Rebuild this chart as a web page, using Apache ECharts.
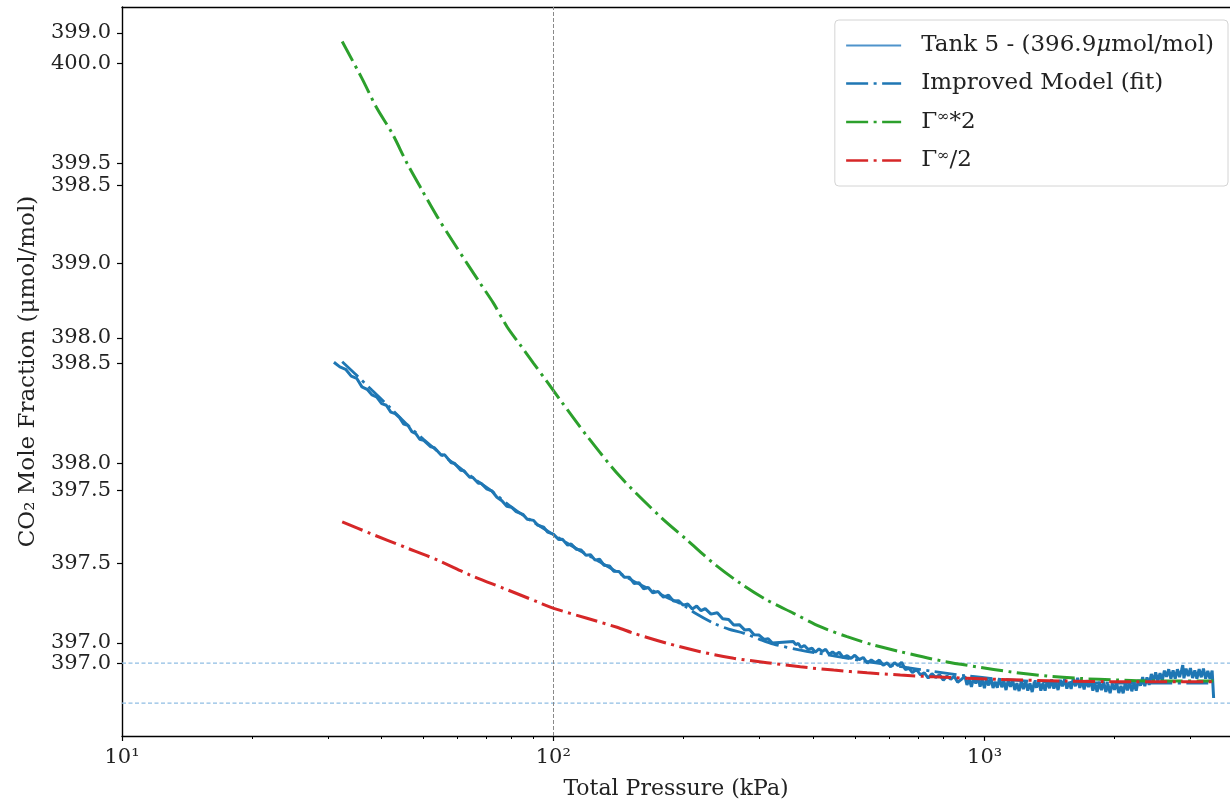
<!DOCTYPE html>
<html>
<head>
<meta charset="utf-8">
<script src="https://cdn.jsdelivr.net/npm/echarts@6/dist/echarts.min.js"></script>
<style>
  html, body { margin: 0; padding: 0; background: #ffffff; }
  #chart { width: 1230px; height: 805px; }
</style>
</head>
<body>
<div id="chart"></div>
<script>
// Measured CO2 mole fraction for tank 5 while the total pressure is varied
const tankPressure = [
  31, 32, 33, 34, 35, 36, 37, 38, 39, 40, 41, 42, 43, 44, 45, 46, 47, 48, 49, 50,
  52, 53, 55, 56, 58, 59, 61, 62, 64, 65, 67, 68, 70, 72, 74, 76, 78, 80, 82, 85,
  87, 90, 92, 95, 97, 100,
  103, 105, 108, 110, 113, 116, 119, 122, 125, 128, 131, 135, 138, 142, 146, 150,
  154, 158, 162, 166, 170, 175, 180, 185, 190, 195, 200, 205, 210, 215, 220, 225,
  232, 240, 247, 255, 262, 270, 278, 285, 292, 300, 308, 315, 322, 325,
  360, 365, 370, 375,
  382, 390, 398, 405, 413, 420, 428, 436, 444, 452, 460, 470, 480, 490, 500, 512,
  523, 535, 546, 558, 570, 582, 594, 606, 618, 630, 642, 655, 668, 680, 695, 710,
  725, 740, 755, 770, 786, 802, 818, 834, 850, 866, 882,
  900, 910, 921, 932, 943, 954, 965, 976, 987, 999,
  1010, 1022, 1034, 1046, 1058, 1070, 1083, 1096, 1108, 1121,
  1134, 1148, 1161, 1175, 1188, 1202, 1216, 1230, 1245, 1259,
  1274, 1289, 1304, 1319, 1334, 1350, 1365, 1381, 1397, 1414,
  1430, 1447, 1463, 1480, 1498, 1515, 1533, 1551, 1569, 1587,
  1605, 1624, 1643, 1662, 1681, 1701, 1721, 1741, 1761, 1782,
  1802, 1823, 1845, 1866, 1888, 1910, 1932, 1954, 1977, 2000,
  2023, 2047, 2071, 2095, 2119, 2144, 2169, 2194, 2220, 2246,
  2272, 2298, 2325, 2352, 2379, 2407, 2435, 2464, 2492, 2521,
  2551, 2580, 2611, 2641, 2672, 2703, 2735, 2766, 2799, 2831,
  2864, 2880, 2898, 2931, 2966, 3000, 3035, 3071, 3106, 3143,
  3179, 3216, 3254, 3292, 3330, 3369, 3396
];
const tankFraction = [
  398.505, 398.482, 398.470, 398.436, 398.425, 398.382, 398.370, 398.342, 398.330, 398.298,
  398.290, 398.256, 398.248, 398.228, 398.196, 398.190, 398.158, 398.148, 398.120, 398.115,
  398.082, 398.078, 398.040, 398.042, 398.002, 398.000, 397.965, 397.962, 397.930, 397.930,
  397.900, 397.900, 397.872, 397.862, 397.830, 397.812, 397.785, 397.780, 397.758, 397.744,
  397.720, 397.714, 397.690, 397.680, 397.655, 397.645,
  397.618, 397.620, 397.590, 397.596, 397.570, 397.566, 397.540, 397.542, 397.515, 397.520,
  397.490, 397.486, 397.460, 397.458, 397.430, 397.430, 397.398, 397.402, 397.372, 397.378,
  397.352, 397.358, 397.330, 397.340, 397.310, 397.312, 397.290, 397.296, 397.270, 397.285,
  397.262, 397.272, 397.245, 397.252, 397.222, 397.218, 397.190, 397.192, 397.165, 397.168,
  397.142, 397.140, 397.118, 397.122, 397.100, 397.108,
  397.108, 397.092, 397.098, 397.078,
  397.088, 397.068, 397.074, 397.054, 397.071, 397.058, 397.069, 397.043, 397.056, 397.043,
  397.054, 397.028, 397.037, 397.023, 397.039, 397.017, 397.028, 397.000, 397.016, 397.002,
  397.015, 396.989, 397.001, 396.981, 397.002, 396.987, 397.004, 396.968, 396.974, 396.953,
  396.968, 396.941, 396.951, 396.925, 396.947, 396.928, 396.942, 396.914, 396.935, 396.919,
  396.934, 396.904, 396.917,
  396.934, 396.891, 396.918, 396.881, 396.927, 396.898, 396.933, 396.882, 396.917, 396.874,
  396.923, 396.888, 396.926, 396.875, 396.906, 396.877, 396.924, 396.879, 396.912, 396.865,
  396.914, 396.881, 396.916, 396.865, 396.899, 396.860, 396.909, 396.870, 396.912, 396.862,
  396.899, 396.855, 396.906, 396.877, 396.912, 396.862, 396.899, 396.862, 396.913, 396.874,
  396.919, 396.872, 396.906, 396.865, 396.916, 396.884, 396.921, 396.872, 396.906, 396.871,
  396.922, 396.884, 396.926, 396.876, 396.914, 396.868, 396.914, 396.880, 396.916, 396.862,
  396.898, 396.856, 396.906, 396.865, 396.907, 396.856, 396.893, 396.849, 396.898, 396.866,
  396.901, 396.850, 396.886, 396.849, 396.900, 396.863, 396.907, 396.859, 396.899, 396.862,
  396.915, 396.887, 396.930, 396.884, 396.928, 396.891, 396.945, 396.908, 396.954, 396.909,
  396.949, 396.911, 396.962, 396.931, 396.969, 396.922, 396.963, 396.922, 396.969, 396.930,
  396.968, 396.990, 396.924, 396.972, 396.935, 396.975, 396.925, 396.963, 396.922, 396.970,
  396.929, 396.972, 396.922, 396.961, 396.921, 396.962, 396.825
];

// Improved model (fit)
const modelPressure = [
  32.4, 35, 38, 42, 46, 50, 55, 60, 66, 72, 80, 90, 100, 112, 125, 140, 155, 170, 185,
  200, 214, 235, 255, 276, 300, 324, 374, 450, 530, 640, 760, 900, 1100, 1400, 2000, 3400
];
const modelFraction = [
  398.508, 398.440, 398.365, 398.275, 398.190, 398.120, 398.045, 397.985, 397.918, 397.860,
  397.780, 397.705, 397.643, 397.578, 397.520, 397.458, 397.405, 397.362, 397.325,
  397.290, 397.248, 397.200, 397.170, 397.150, 397.120, 397.095, 397.065, 397.035, 397.008,
  396.982, 396.958, 396.937, 396.918, 396.906, 396.900, 396.900
];

// Model with the adsorption term doubled
const doublePressure = [
  32.4, 36.0, 39.0, 42.3, 45.8, 49.6, 53.8, 58.2, 63.1, 67.7, 72.7, 78.1, 83.8, 90.0,
  96.7, 103.8, 119.7, 143.0, 177.1, 204.2, 235.3, 271.4, 312.9, 360.7, 415.9, 479.8,
  552.9, 637.6, 789.5, 960.3, 1147, 1395, 1667, 2028, 2462, 3391
];
const doubleFraction = [
  400.110, 399.926, 399.776, 399.651, 399.501, 399.367, 399.234, 399.117, 399.000, 398.900,
  398.800, 398.683, 398.592, 398.500, 398.408, 398.316, 398.136, 397.932, 397.732, 397.616,
  397.499, 397.399, 397.315, 397.249, 397.182, 397.132, 397.090, 397.057, 397.012, 396.981,
  396.956, 396.935, 396.923, 396.915, 396.910, 396.910
];

// Model with the adsorption term halved
const halfPressure = [
  32.4, 37.6, 45.0, 53.8, 64.2, 76.7, 91.7, 100.2, 119.7, 140.5, 153.6, 183.5, 219.2,
  261.8, 312.9, 373.9, 446.7, 533.9, 637.6, 761.6, 1088, 1552, 2215, 3391
];
const halfFraction = [
  397.707, 397.649, 397.582, 397.516, 397.440, 397.374, 397.307, 397.274, 397.224, 397.179,
  397.149, 397.099, 397.057, 397.024, 397.002, 396.981, 396.965, 396.951, 396.940, 396.931,
  396.918, 396.910, 396.906, 396.906
];

const seriesNames = ['Tank 5 - (396.9μmol/mol)', 'Improved Model (fit)', 'Γ∞*2', 'Γ∞/2'];
const legendLabels = [
  '{t|Tank 5 - (396.9}{i|μ}{t|mol/mol)}',
  '{t|Improved Model (fit)}',
  '{t|Γ}{s|∞}{t|*2}',
  '{t|Γ}{s|∞}{t|/2}'
];

const toleranceLevels = [397.0, 396.8];   // 396.9 ± 0.1
const referencePressure = [100];

const xTickValues = [10, 100, 1000];
const xTickLabels = ['10¹', '10²', '10³'];
const xMinorTicks = [20, 30, 40, 50, 60, 70, 80, 90, 200, 300, 400, 500, 600, 700, 800, 900, 2000, 3000];
const yTickValues = [397.0, 397.5, 398.0, 398.5, 399.0, 399.5, 400.0];
const yTickValuesAlt = [397.0, 397.5, 398.0, 398.5, 399.0];

const FONT = 'DejaVu Serif';
const INK = '#222222';
const X_MIN = 10, X_MAX = 3706;

function zip(xs, ys) { return xs.map((x, i) => [x, ys[i]]); }
function xLabel(v) {
  let best = 0;
  xTickValues.forEach((t, i) => {
    if (Math.abs(Math.log10(t / v)) < Math.abs(Math.log10(xTickValues[best] / v))) best = i;
  });
  return xTickLabels[best];
}

const dashDot = [22, 5.5, 3, 5.5];
const tickFont = { fontFamily: FONT, fontSize: 21, color: INK };
const nameFont = { fontFamily: FONT, fontSize: 22, color: INK };

// horizontal guide lines spanning the full pressure range
const guideSeries = toleranceLevels.map(v => ({
  type: 'line', xAxisIndex: 0, yAxisIndex: 0, silent: true,
  data: [[X_MIN, v], [X_MAX, v]],
  symbol: 'none', showSymbol: false,
  lineStyle: { color: '#8fbde3', width: 1.2, type: [4, 2.5] },
  z: 1
}));

const chart = echarts.init(document.getElementById('chart'), null, { renderer: 'canvas' });
chart.setOption({
  animation: false,
  backgroundColor: '#ffffff',
  grid: { left: 122, right: 0, top: 7, bottom: 69, containLabel: false },
  xAxis: [
    {
      type: 'log', logBase: 10, min: X_MIN, max: X_MAX, position: 'bottom',
      axisLine: { show: true, onZero: false, lineStyle: { color: '#000', width: 1.4 } },
      axisTick: { show: true, length: 5, customValues: xTickValues, lineStyle: { color: '#000', width: 1.2 } },
      axisLabel: Object.assign({ customValues: xTickValues, margin: 11, formatter: xLabel }, tickFont),
      splitLine: { show: false }, minorTick: { show: false },
      name: 'Total Pressure (kPa)', nameLocation: 'middle', nameGap: 42,
      nameTextStyle: nameFont
    },
    {
      type: 'log', logBase: 10, min: X_MIN, max: X_MAX, position: 'bottom',
      axisLine: { show: false },
      axisTick: { show: true, length: 3, customValues: xMinorTicks, lineStyle: { color: '#000', width: 1 } },
      axisLabel: { show: false }, splitLine: { show: false }
    },
    {
      type: 'log', logBase: 10, min: X_MIN, max: X_MAX, position: 'top',
      axisLine: { show: true, onZero: false, lineStyle: { color: '#000', width: 1.4 } },
      axisTick: { show: false }, axisLabel: { show: false }, splitLine: { show: false }
    }
  ],
  yAxis: [
    {
      type: 'value', min: 396.635, max: 400.283, position: 'left',
      axisLine: { show: true, onZero: false, lineStyle: { color: '#000', width: 1.4 } },
      axisTick: { show: true, length: 5, customValues: yTickValues, lineStyle: { color: '#000', width: 1.2 } },
      axisLabel: Object.assign({ customValues: yTickValues, margin: 11, formatter: v => v.toFixed(1) }, tickFont),
      splitLine: { show: false },
      name: 'CO₂ Mole Fraction (μmol/mol)', nameLocation: 'middle', nameGap: 80,
      nameTextStyle: { fontFamily: FONT, fontSize: 23, color: INK }
    },
    {
      type: 'value', min: 396.695, max: 399.085, position: 'left', offset: 0,
      axisLine: { show: false },
      axisTick: { show: true, length: 5, customValues: yTickValuesAlt, lineStyle: { color: '#000', width: 1.2 } },
      axisLabel: Object.assign({ customValues: yTickValuesAlt, margin: 11, formatter: v => v.toFixed(1) }, tickFont),
      splitLine: { show: false }
    }
  ],
  legend: {
    orient: 'vertical', right: 2, top: 20,
    data: [
      { name: seriesNames[0], lineStyle: { color: '#4f93cb', width: 2.2, type: 'solid' } },
      { name: seriesNames[1], lineStyle: { color: '#1f77b4', width: 2.6, type: dashDot } },
      { name: seriesNames[2], lineStyle: { color: '#2ca02c', width: 2.6, type: dashDot } },
      { name: seriesNames[3], lineStyle: { color: '#d62728', width: 2.6, type: dashDot } }
    ],
    itemStyle: { opacity: 0 },
    itemWidth: 55, itemHeight: 24, itemGap: 15,
    padding: [14, 14, 14, 10],
    borderColor: '#d4d4d4', borderWidth: 1, borderRadius: 4,
    backgroundColor: 'rgba(255,255,255,0.85)',
    formatter: name => legendLabels[seriesNames.indexOf(name)],
    textStyle: {
      fontFamily: FONT, fontSize: 23, color: INK, padding: [0, 0, 0, 15],
      rich: {
        t: { fontFamily: FONT, fontSize: 23, color: INK, lineHeight: 24 },
        i: { fontFamily: FONT, fontSize: 23, color: INK, fontStyle: 'italic', lineHeight: 24 },
        s: { fontFamily: FONT, fontSize: 15, color: INK, verticalAlign: 'top', lineHeight: 12 }
      }
    }
  },
  series: [
    ...guideSeries,
    {
      name: seriesNames[0], type: 'line', xAxisIndex: 0, yAxisIndex: 0,
      data: zip(tankPressure, tankFraction),
      symbol: 'none', showSymbol: false,
      lineStyle: { color: '#1f77b4', width: 3 }, itemStyle: { color: '#1f77b4' },
      z: 2,
      markLine: {
        silent: true, symbol: ['none', 'none'], label: { show: false }, animation: false,
        lineStyle: { color: '#8a8a8a', width: 1, type: [4, 2] },
        data: referencePressure.map(v => ({ xAxis: v }))
      }
    },
    {
      name: seriesNames[1], type: 'line', xAxisIndex: 0, yAxisIndex: 0,
      data: zip(modelPressure, modelFraction), smooth: 0.3,
      symbol: 'none', showSymbol: false,
      lineStyle: { color: '#1f77b4', width: 2.8, type: dashDot }, itemStyle: { color: '#1f77b4' },
      z: 3
    },
    {
      name: seriesNames[2], type: 'line', xAxisIndex: 0, yAxisIndex: 0,
      data: zip(doublePressure, doubleFraction), smooth: 0.3,
      symbol: 'none', showSymbol: false,
      lineStyle: { color: '#2ca02c', width: 3, type: dashDot }, itemStyle: { color: '#2ca02c' },
      z: 4
    },
    {
      name: seriesNames[3], type: 'line', xAxisIndex: 0, yAxisIndex: 0,
      data: zip(halfPressure, halfFraction), smooth: 0.3,
      symbol: 'none', showSymbol: false,
      lineStyle: { color: '#d62728', width: 3, type: dashDot }, itemStyle: { color: '#d62728' },
      z: 5
    }
  ]
});
</script>
</body>
</html>
